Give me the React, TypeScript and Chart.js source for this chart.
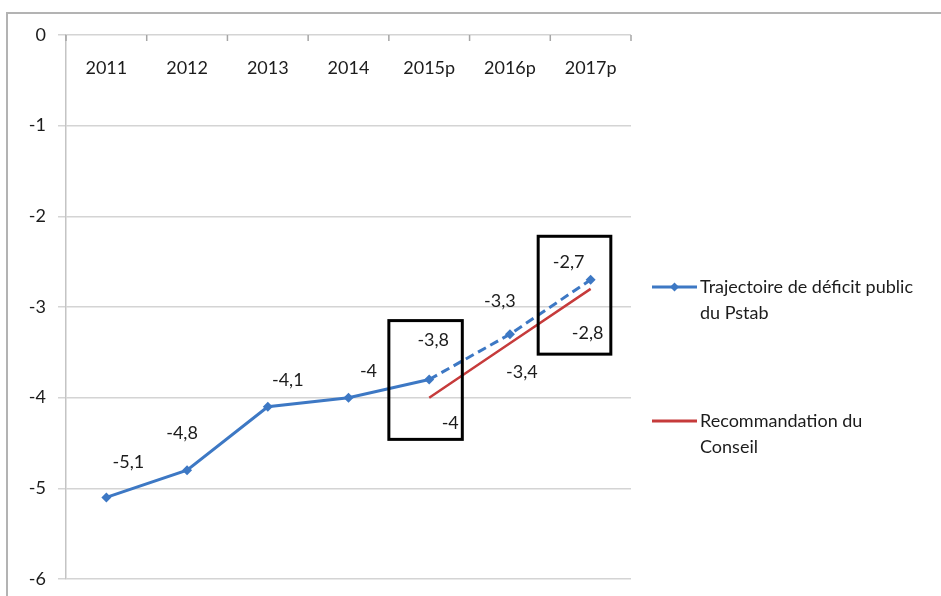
import React, { useEffect, useRef } from "react";
import { Chart, registerables } from "chart.js";

Chart.register(...registerables);

const categories = ["2011", "2012", "2013", "2014", "2015p", "2016p", "2017p"];
const pstabValues = [-5.1, -4.8, -4.1, -4, -3.8, -3.3, -2.7];
const conseilValues: (number | null)[] = [null, null, null, null, -4, -3.4, -2.8];
const yTicks = [0, -1, -2, -3, -4, -5, -6];
const legendPstab = ["Trajectoire de déficit public", "du Pstab"];
const legendConseil = ["Recommandation du", "Conseil"];

// label offsets (px) relative to each point
const pstabLabelOffsets = [
  [22, -35], [-5, -37], [20, -27], [20, -26], [4, -39], [-10, -33], [-22, -18],
];
const conseilLabelOffsets = [
  [0, 0], [0, 0], [0, 0], [0, 0], [21, 26], [12, 29], [-3, 44],
];
// highlight boxes: [xFrom, xTo, yFrom, yTo] in scale units
const boxes = [
  [3.5, 4.41, -3.15, -4.46],
  [5.35, 6.25, -2.22, -3.52],
];

const BLUE = "#3d78c4";
const RED = "#c63b3b";
const FONT = "Lato, 'Open Sans', sans-serif";

const fmt = (v: number) => String(v).replace(".", ",");

const decorPlugin = {
  id: "decor",
  beforeDraw(chart: any) {
    const ctx = chart.ctx;
    ctx.save();
    ctx.strokeStyle = "#b3b3b3";
    ctx.lineWidth = 2;
    ctx.beginPath();
    ctx.moveTo(7, 596);
    ctx.lineTo(7, 13);
    ctx.lineTo(941, 13);
    ctx.stroke();
    ctx.restore();
  },
  afterDatasetsDraw(chart: any) {
    const ctx = chart.ctx;
    const xs = chart.scales.x;
    const ys = chart.scales.y;
    const area = chart.chartArea;
    ctx.save();
    // top tick marks
    ctx.strokeStyle = "#a6a6a6";
    ctx.lineWidth = 1.5;
    for (let k = 0; k <= categories.length; k++) {
      const x = xs.getPixelForValue(k - 0.5);
      ctx.beginPath();
      ctx.moveTo(x, area.top);
      ctx.lineTo(x, area.top + 6);
      ctx.stroke();
    }
    // category labels
    ctx.fillStyle = "#1c1c1c";
    ctx.font = `18px ${FONT}`;
    ctx.textAlign = "center";
    ctx.textBaseline = "middle";
    categories.forEach((c, i) => {
      ctx.fillText(c, xs.getPixelForValue(i), area.top + 33);
    });
    // data labels
    pstabValues.forEach((v, i) => {
      const [dx, dy] = pstabLabelOffsets[i];
      ctx.fillText(fmt(v), xs.getPixelForValue(i) + dx, ys.getPixelForValue(v) + dy);
    });
    conseilValues.forEach((v, i) => {
      if (v === null) return;
      const [dx, dy] = conseilLabelOffsets[i];
      ctx.fillText(fmt(v), xs.getPixelForValue(i) + dx, ys.getPixelForValue(v) + dy);
    });
    // boxes
    ctx.strokeStyle = "#000";
    ctx.lineWidth = 3;
    boxes.forEach(([x0, x1, y0, y1]) => {
      const px0 = xs.getPixelForValue(x0);
      const px1 = xs.getPixelForValue(x1);
      const py0 = ys.getPixelForValue(y0);
      const py1 = ys.getPixelForValue(y1);
      ctx.strokeRect(px0, py0, px1 - px0, py1 - py0);
    });
    // legend
    const lx = 652;
    const drawEntry = (color: string, lines: string[], y: number, marker: boolean, width: number) => {
      ctx.strokeStyle = color;
      ctx.lineWidth = width;
      ctx.beginPath();
      ctx.moveTo(lx, y);
      ctx.lineTo(lx + 45, y);
      ctx.stroke();
      if (marker) {
        ctx.fillStyle = color;
        ctx.beginPath();
        ctx.moveTo(lx + 22.5, y - 4.5);
        ctx.lineTo(lx + 27, y);
        ctx.lineTo(lx + 22.5, y + 4.5);
        ctx.lineTo(lx + 18, y);
        ctx.closePath();
        ctx.fill();
      }
      ctx.fillStyle = "#1c1c1c";
      ctx.textAlign = "left";
      lines.forEach((t, k) => ctx.fillText(t, lx + 48, y + k * 26));
    };
    drawEntry(BLUE, legendPstab, 287, true, 3);
    drawEntry(RED, legendConseil, 421, false, 3);
    ctx.restore();
  },
};

export default function App() {
  const ref = useRef<HTMLCanvasElement>(null);
  useEffect(() => {
    if (!ref.current) return;
    const chart = new Chart(ref.current, {
      type: "line",
      data: {
        labels: categories,
        datasets: [
          {
            label: legendPstab.join(" "),
            data: pstabValues,
            borderColor: BLUE,
            backgroundColor: BLUE,
            borderWidth: 3,
            pointStyle: "rectRot",
            pointRadius: 5,
            pointBorderWidth: 0,
            tension: 0,
            segment: {
              borderDash: (c: any) => (c.p0DataIndex >= 4 ? [9, 5] : undefined),
            },
          },
          {
            label: legendConseil.join(" "),
            data: conseilValues,
            borderColor: RED,
            backgroundColor: RED,
            borderWidth: 2.5,
            pointRadius: 0,
            tension: 0,
          },
        ],
      },
      options: {
        responsive: false,
        animation: false,
        layout: { padding: { top: 35, bottom: 17, right: 310, left: 0 } },
        plugins: { legend: { display: false }, tooltip: { enabled: false } },
        scales: {
          x: { display: false, offset: true },
          y: {
            min: -6,
            max: 0,
            afterFit: (s: any) => {
              s.width = 66;
              s.paddingTop = 0;
              s.paddingBottom = 0;
            },
            afterBuildTicks: (s: any) => {
              s.ticks = yTicks.map((v) => ({ value: v }));
            },
            ticks: {
              color: "#1c1c1c",
              font: { family: FONT, size: 18 },
              padding: 12,
              callback: (v: any) => fmt(Number(v)),
            },
            grid: { color: "#d4d4d4", lineWidth: 1.5, tickLength: 8, tickColor: "#d4d4d4" },
            border: { display: true, color: "#c4c4c4", width: 1.5 },
          },
        },
      },
      plugins: [decorPlugin],
    });
    return () => chart.destroy();
  }, []);
  return (
    <div style={{ position: "absolute", left: 0, top: 0, width: 941, height: 596, background: "#fff" }}>
      <canvas ref={ref} width={941} height={596} />
    </div>
  );
}
